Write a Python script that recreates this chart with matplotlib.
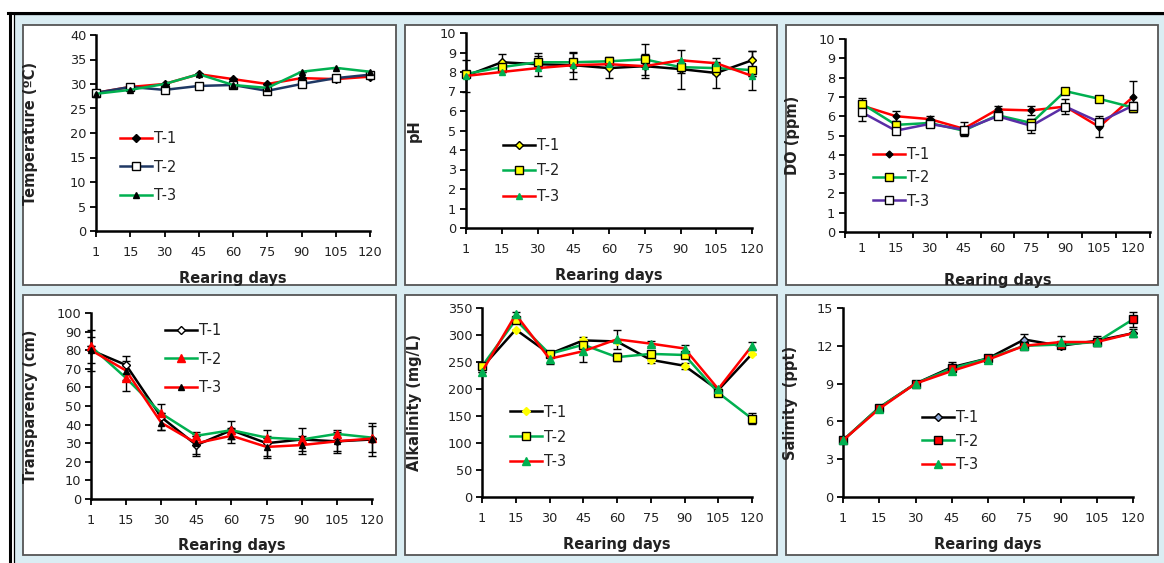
import numpy as np
import matplotlib.pyplot as plt
from matplotlib.patches import Rectangle
from matplotlib.lines import Line2D

# sampling days (categories on every x axis)
days = ["1", "15", "30", "45", "60", "75", "90", "105", "120"]
labels = ["T-1", "T-2", "T-3"]

# Temperature (ºC)
temp_t1 = [28.2, 29.4, 30.0, 32.0, 31.0, 30.0, 31.2, 31.0, 31.5]
temp_t2 = [28.2, 29.4, 28.8, 29.6, 29.8, 28.6, 30.0, 31.2, 31.9]
temp_t3 = [28.0, 28.8, 30.0, 32.0, 29.8, 29.2, 32.5, 33.3, 32.5]

# pH
ph_t1 = [7.8, 8.5, 8.4, 8.35, 8.2, 8.3, 8.15, 7.95, 8.6]
ph_t2 = [7.9, 8.25, 8.5, 8.5, 8.55, 8.65, 8.25, 8.2, 8.1]
ph_t3 = [7.8, 8.0, 8.2, 8.35, 8.4, 8.3, 8.6, 8.45, 7.8]
ph_e1 = [0.8, 0.4, 0.6, 0.7, 0.5, 0.6, 1.0, 0.75, 0.5]
ph_e2 = [0.1, 0.2, 0.3, 0.5, 0.2, 0.8, 0.3, 0.3, 1.0]

# DO (ppm)
do_t1 = [6.55, 6.0, 5.85, 5.35, 6.35, 6.3, 6.5, 5.45, 7.0]
do_t2 = [6.65, 5.55, 5.65, 5.25, 6.05, 5.65, 7.3, 6.9, 6.45]
do_t3 = [6.2, 5.25, 5.6, 5.3, 6.0, 5.5, 6.5, 5.7, 6.55]
do_e1 = [0.4, 0.25, 0.15, 0.35, 0.2, 0.25, 0.4, 0.55, 0.8]
do_e3 = [0.45, 0.1, 0.1, 0.1, 0.1, 0.35, 0.1, 0.1, 0.2]

# Transparency (cm)
tr_t1 = [80, 72, 44, 29, 37, 30, 32, 31, 32]
tr_t2 = [82, 65, 46, 34, 37, 33, 32, 35, 33]
tr_t3 = [80, 69, 41, 30, 34, 28, 29, 31, 32.5]
tr_e1 = [11, 5, 7, 6, 5, 7, 6, 6, 9]
tr_e2 = [0, 7, 0, 0, 0, 0, 0, 0, 0]
tr_e3 = [7, 5, 4, 6, 4, 6, 5, 5, 7]

# Alkalinity (mg/L)
al_t1 = [240, 310, 265, 290, 288, 254, 243, 198, 265]
al_t2 = [242, 328, 265, 282, 259, 265, 263, 193, 145]
al_t3 = [232, 338, 256, 270, 292, 284, 275, 200, 280]
al_e1 = [0, 0, 0, 6, 0, 6, 6, 0, 0]
al_e2 = [0, 0, 0, 0, 8, 0, 0, 0, 10]
al_e3 = [0, 4, 10, 20, 17, 5, 7, 0, 7]

# Salinity (ppt)
sa_t1 = [4.5, 7.1, 9.0, 10.3, 11.0, 12.5, 12.0, 12.4, 13.0]
sa_t2 = [4.5, 7.1, 9.0, 10.2, 11.0, 12.0, 12.1, 12.3, 14.1]
sa_t3 = [4.5, 7.0, 9.0, 10.0, 10.9, 12.0, 12.3, 12.3, 13.0]
sa_e1 = [0.1, 0.1, 0.1, 0.4, 0.1, 0.4, 0.2, 0.4, 0.3]
sa_e2 = [0, 0, 0, 0, 0, 0, 0, 0, 0.6]
sa_e3 = [0, 0, 0, 0, 0, 0, 0.5, 0, 0]

W, H = 1164, 563
fig = plt.figure(figsize=(W / 100, H / 100), dpi=100)
fig.patch.set_facecolor("white")


def fx(px):
    return px / W


def fy(py):
    return 1 - py / H


# light blue background + outer black frame
fig.patches.append(Rectangle((fx(14), 0), fx(W - 14), fy(14), transform=fig.transFigure,
                             facecolor="#daedf3", edgecolor="none", zorder=-3))
fig.add_artist(Line2D([fx(8), 1], [fy(12.5), fy(12.5)], color="black", lw=2.2, transform=fig.transFigure))
fig.add_artist(Line2D([fx(10), fx(10)], [0, fy(12.5)], color="black", lw=2.2, transform=fig.transFigure))
fig.add_artist(Line2D([fx(13.5), fx(13.5)], [0, fy(14)], color="black", lw=0.9, transform=fig.transFigure))
fig.add_artist(Line2D([fx(13.5), 1], [fy(14), fy(14)], color="black", lw=0.9, transform=fig.transFigure))

# panel boxes (x0, x1, y0, y1) in pixels
boxes = [(23, 396, 25, 285), (405, 777, 25, 285), (786, 1158, 25, 285),
         (23, 396, 295, 555), (405, 777, 295, 555), (786, 1158, 295, 555)]
for x0, x1, y0, y1 in boxes:
    fig.patches.append(Rectangle((fx(x0), fy(y1)), fx(x1 - x0), (y1 - y0) / H,
                                 transform=fig.transFigure, facecolor="white",
                                 edgecolor="#555555", lw=1.3, zorder=-2))

x = np.arange(len(days))
fs = 9.3
lfs = 10.5
tc = "#222222"


def make_axes(x0, x1, yt, yb, ylim, ystep, ylabel, ylab_px, xlab_py, between=False):
    ax = fig.add_axes([fx(x0), fy(yb), fx(x1 - x0), (yb - yt) / H])
    ax.set_facecolor("none")
    for s in ["top", "right"]:
        ax.spines[s].set_visible(False)
    for s in ["left", "bottom"]:
        ax.spines[s].set_linewidth(1.8)
        ax.spines[s].set_color("black")
    ax.set_ylim(0, ylim)
    ax.set_yticks(np.arange(0, ylim + ystep / 2, ystep))
    if between:
        ax.set_xlim(-0.5, len(days) - 0.5)
        ax.set_xticks(np.arange(-0.5, len(days), 1.0))
        ax.set_xticklabels([])
        ax.set_xticks(x, minor=True)
        ax.set_xticklabels(days, minor=True)
        ax.tick_params(axis="x", which="minor", length=0, pad=7)
    else:
        ax.set_xlim(0, len(days) - 1)
        ax.set_xticks(x)
        ax.set_xticklabels(days)
    ax.tick_params(axis="both", which="major", direction="out", length=4, width=1.3,
                   labelsize=fs, labelcolor=tc, pad=3)
    ax.tick_params(axis="x", which="both", labelsize=fs, labelcolor=tc)
    ax.tick_params(axis="x", which="major", pad=7)
    ax.set_ylabel(ylabel, fontsize=lfs, fontweight="bold", color=tc)
    ax.yaxis.set_label_coords((ylab_px - x0) / (x1 - x0), 0.5)
    ax.set_xlabel("Rearing days", fontsize=lfs, fontweight="bold", color=tc)
    ax.xaxis.set_label_coords(0.5, (yb - xlab_py) / (yb - yt))
    return ax


def series(ax, y, err, color, marker, mfc, mec, ms=5, label=None):
    ax.errorbar(x, y, yerr=err, color=color, lw=1.8, marker=marker, ms=ms,
                mfc=mfc, mec=mec, mew=1.0, ecolor="black", elinewidth=1.0,
                capsize=3, capthick=1.0, label=label, clip_on=False, zorder=3)


def legend(ax, px, py, spacing):
    h, l = ax.get_legend_handles_labels()
    h = [hh[0] for hh in h]
    ax.legend(h, l, loc="center left", bbox_to_anchor=(fx(px), fy(py)),
              bbox_transform=fig.transFigure, frameon=False, fontsize=10.5,
              handlelength=2.2, handletextpad=0.1, borderpad=0, borderaxespad=0,
              labelspacing=spacing, labelcolor=tc)


zeros = [0] * len(days)

# Temperature
ax = make_axes(96, 370, 35, 231, 40, 5, "Temperature (ºC)", 38, 271)
series(ax, temp_t1, zeros, "#ff0000", "D", "black", "black", 4, labels[0])
series(ax, temp_t2, zeros, "#1f3864", "s", "white", "black", 5.5, labels[1])
series(ax, temp_t3, zeros, "#00b050", "^", "black", "black", 5, labels[2])
legend(ax, 120, 167, 0.95)

# pH
ax = make_axes(466, 752, 33, 228, 10, 1, "pH", 422, 268)
series(ax, ph_t1, ph_e1, "black", "D", "#ffff00", "black", 4.5, labels[0])
series(ax, ph_t2, ph_e2, "#00b050", "s", "#ffff00", "black", 5.5, labels[1])
series(ax, ph_t3, zeros, "#ff0000", "^", "#00b050", "#00b050", 5, labels[2])
legend(ax, 503, 171, 0.72)

# DO
ax = make_axes(845, 1150, 39, 232, 10, 1, "DO (ppm)", 800, 273, between=True)
series(ax, do_t1, do_e1, "#ff0000", "D", "black", "black", 3.5, labels[0])
series(ax, do_t2, zeros, "#00b050", "s", "#ffff00", "black", 5.5, labels[1])
series(ax, do_t3, do_e3, "#5a2ea6", "s", "white", "black", 5.5, labels[2])
legend(ax, 873, 178, 0.55)

# Transparency
ax = make_axes(91, 372, 313, 499, 100, 10, "Transparency (cm)", 38, 538)
series(ax, tr_t1, tr_e1, "black", "D", "white", "black", 4.5, labels[0])
series(ax, tr_t2, tr_e2, "#00b050", "^", "#ff0000", "#ff0000", 5.5, labels[1])
series(ax, tr_t3, tr_e3, "#ff0000", "^", "black", "black", 5, labels[2])
legend(ax, 165, 359, 0.9)

# Alkalinity
ax = make_axes(482, 752, 308, 497, 350, 50, "Alkalinity (mg/L)", 422, 537)
series(ax, al_t1, al_e1, "black", "D", "#ffff00", "#ffff00", 4, labels[0])
series(ax, al_t2, al_e2, "#00b050", "s", "#ffff00", "black", 5.5, labels[1])
series(ax, al_t3, al_e3, "#ff0000", "^", "#00b050", "#00b050", 5.5, labels[2])
legend(ax, 510, 437, 0.68)

# Salinity
ax = make_axes(843, 1133, 308, 497, 15, 3, "Salinity  (ppt)", 798, 537)
series(ax, sa_t1, sa_e1, "black", "D", "#8eaadb", "black", 4.5, labels[0])
series(ax, sa_t2, sa_e2, "#00b050", "s", "#ff0000", "black", 5.5, labels[1])
series(ax, sa_t3, sa_e3, "#ff0000", "^", "#00b050", "#00b050", 5.5, labels[2])
legend(ax, 922, 441, 0.6)

fig.savefig("out.png", dpi=100)
